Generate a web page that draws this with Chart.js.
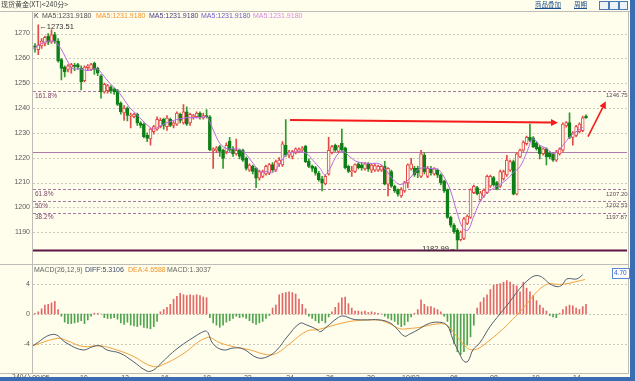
<!DOCTYPE html>
<html><head><meta charset="utf-8">
<script src="https://cdn.jsdelivr.net/npm/chart.js@4.4.0/dist/chart.umd.min.js"></script>
<style>
html,body{margin:0;padding:0}
body{width:635px;height:381px;background:#3c6db2;overflow:hidden;position:relative;font-family:"Liberation Sans",Arial,sans-serif}
#wrap{position:absolute;left:0;top:0;width:630px;height:377px;background:#fffdeb;overflow:hidden}
canvas{position:absolute;left:0}
.t{position:absolute;white-space:nowrap;line-height:1;font-size:7px;color:#555}
.ln{position:absolute;background:#bdbdb5}
.cjk{font-family:"Noto Sans CJK SC",sans-serif}
.ic{position:absolute;top:1px;width:8px;height:7px;border:1px solid #4a7ab8;background:#eef3fa}
</style></head><body>
<div id="wrap">
 <canvas id="main" width="630" height="258" style="top:0"></canvas>
 <canvas id="macd" width="630" height="125" style="top:256px"></canvas>
 <div class="ln" style="left:0;top:11px;width:630px;height:1px"></div>
 <div class="ln" style="left:32px;top:11px;width:1px;height:363px"></div>
 <div class="ln" style="left:628px;top:11px;width:1px;height:363px"></div>
 <div class="ln" style="left:0;top:264px;width:628px;height:1px"></div>
 <div class="ln" style="left:0;top:373px;width:628px;height:1px"></div>
 <div class="t cjk" style="left:1px;top:1px;font-size:7px;color:#444">现货黄金(XT)&lt;240分&gt;</div>
 <div class="t cjk" style="left:535px;top:1px;font-size:6.5px;color:#1e4f8f;text-decoration:underline">商品叠加</div>
 <div class="t cjk" style="left:574px;top:1px;font-size:6.5px;color:#1e4f8f;text-decoration:underline">周期</div>
 <div class="ic" style="left:599px"></div><div class="ic" style="left:609px"></div><div class="ic" style="left:619px;width:7px"></div>
 <div class="t" style="left:34px;top:12px;color:#333">K</div>
 <div class="t" style="left:42px;top:12px;color:#505050">MA5:1231.9180</div>
 <div class="t" style="left:96px;top:12px;color:#f0962e">MA5:1231.9180</div>
 <div class="t" style="left:149px;top:12px;color:#4a3a84">MA5:1231.9180</div>
 <div class="t" style="left:201px;top:12px;color:#6a5ccc">MA5:1231.9180</div>
 <div class="t" style="left:253px;top:12px;color:#d58ae6">MA5:1231.9180</div>
 <div class="t" style="left:34px;top:266px;color:#666">MACD(26,12,9)</div>
 <div class="t" style="left:85px;top:266px;color:#3c4a70">DIFF:5.3106</div>
 <div class="t" style="left:128px;top:266px;color:#f0962e">DEA:4.6588</div>
 <div class="t" style="left:167px;top:266px;color:#666">MACD:1.3037</div>
 <div class="t" style="left:612px;top:268px;width:15px;height:8px;padding:1px 0 0 1px;border:1px solid #5a86d6;background:#fff;color:#2a5cc8;font-size:6.5px">4.70</div>
 <div class="t cjk" style="left:12px;top:374px;font-size:7px">240分</div>
</div>
<script>
// ---------- data ----------
const opens = [1265,1263.5,1265,1266,1269,1266.5,1269.6,1267,1259.5,1256.5,1255.5,1256.5,1257,1257.5,1256,1251,1256.3,1255.5,1258,1256,
1253,1246.5,1247,1248.5,1247.5,1247,1242,1238,1240,1236.8,1236.5,1237.5,1234,1233.5,1229,1227.6,1230.5,1231.5,1232.5,1235.5,
1232.5,1235.5,1233,1233.5,1237.5,1234,1238.5,1234,1236.5,1236.5,1238,1236,1237,1236.5,1222.7,1223,1224.5,1223.1,1222.3,1226.6,
1223.5,1221.5,1223,1223.1,1219.7,1215,1216.5,1215.7,1211.8,1212.5,1213.5,1213.8,1217.2,1215,1217.5,1217.1,1225,1221,1220.5,1222,
1222.5,1223,1224.6,1218.5,1216.5,1216,1213.8,1211.5,1209.5,1213.5,1222,1225,1222.5,1225.8,1224,1216.5,1214.4,1214.5,1217.5,1217,
1215.5,1217.5,1215,1215,1215,1215,1216.5,1209.3,1214.4,1208.5,1207.2,1204.6,1206.6,1209.8,1215.5,1215.7,1215.7,1212.5,1221,1212.5,
1215.5,1213.5,1215,1213.1,1210.5,1207.2,1196,1192.8,1190.8,1187,1187.5,1193.5,1196,1205.9,1208,1203,1204.5,1205.9,1208.5,1212,
1210,1208.5,1211.5,1213.1,1215,1218.4,1205.3,1220.3,1223,1225.6,1228.2,1228,1226,1224.3,1221.6,1223.6,1222,1221.6,1219,1221.5,
1223,1232.8,1234.1,1228.2,1229,1230.5,1230.9,1236.8];
const highs = [1266,1273.51,1268,1269,1270,1271.5,1270.5,1268,1260,1257,1257.5,1258,1258,1258,1257,1257,1257.5,1258,1258.5,1256.5,
1253.5,1250,1249.5,1249,1248,1247.5,1242.5,1241,1240.5,1238,1238,1238,1234.5,1234,1230,1232,1233,1236.5,1236,1236,
1237,1236,1234.5,1238.5,1238,1241.4,1240.5,1238,1237.5,1238.5,1238.5,1238,1239.4,1237,1224,1224.5,1225,1223.5,1226,1228.2,
1224.5,1227.5,1223.5,1223.5,1220.2,1217.5,1217,1216,1215,1215,1217,1217.7,1218,1219,1220,1226.5,1235.4,1223,1223,1224,
1224,1224.5,1225,1219.5,1217,1216.5,1214.5,1212.5,1213,1228.2,1225,1225.5,1225,1231.5,1224.3,1217,1216.5,1217.5,1218,1218,
1218,1218,1217.5,1217.5,1217,1217,1218.5,1216,1215,1209,1207.5,1208,1210.5,1217.5,1219.7,1216.5,1216.5,1223,1222,1216.5,
1216.5,1216,1215.5,1213.5,1211,1207.5,1196.5,1193.5,1191.5,1190.5,1196,1197,1207.5,1209,1208.5,1206.5,1207.5,1213,1213,1212.5,
1210.5,1215,1215,1221,1219,1219,1222,1223.5,1226.8,1228.7,1233.5,1228.5,1226.5,1225,1224,1224,1222.5,1222,1223,1224,
1234,1234.5,1238.1,1230.5,1233,1234,1236.8,1237.3];
const lows = [1262.5,1261.5,1264,1265,1265.5,1266,1266,1258.5,1251.3,1252.5,1254.5,1254,1255,1255.5,1247.3,1250.5,1255,1255,1253.5,1253,
1244,1246,1246,1246,1245.5,1241,1237.5,1235,1234.8,1232,1236,1233,1232,1228,1226.5,1225,1229.5,1231,1232,1231.5,
1231,1232.5,1232,1233,1234,1233.5,1233,1233,1235.5,1236,1235.5,1235.5,1236,1222.8,1215.7,1222,1220.5,1215.7,1221.5,1222.5,
1220.5,1221,1219.5,1218.5,1215,1214.5,1213.5,1207.9,1211,1212,1213,1213.2,1214.5,1214.5,1216.5,1216.5,1220.5,1220,1219.5,1221.5,
1222,1222.5,1218,1216,1214.5,1213,1210.5,1206.6,1209,1213,1221.5,1222.5,1222,1222.5,1215.5,1214,1212.5,1214,1215.5,1215,
1215,1214.5,1214,1214.5,1214.5,1214.5,1209,1204.6,1208,1206,1204.5,1204,1206,1207.9,1215,1212.5,1212,1212,1213.5,1212,
1213,1213,1212,1209,1206,1195.5,1192,1189.5,1182.99,1186.5,1187,1193,1195.5,1205.5,1205,1202.5,1204,1205.5,1208,1208.5,
1207,1208,1211,1212.5,1214.5,1205,1205,1220,1222.5,1225,1226.5,1224,1223,1219.5,1221,1217.1,1219.5,1218.5,1218.5,1221,
1222.5,1232.3,1227.7,1225,1228.5,1230,1230.5,1235.8];
const closes = [1264.4,1265.5,1267,1268.5,1266.5,1269.5,1266.8,1259,1256,1254.5,1257,1257.5,1256.8,1256.5,1250.5,1256.5,1257,1257.5,1255.5,1254,
1246.5,1249.5,1249,1247,1246.5,1241.5,1238.5,1240,1237,1237.2,1237.5,1234,1233,1228.5,1227.8,1231.5,1232.5,1235.5,1235,1233,
1236,1233,1234,1238,1235,1238.5,1233.5,1237.5,1237,1238,1236.5,1237,1236.5,1223.1,1223.6,1224,1222.5,1219.7,1225,1223,
1221.5,1223,1220.5,1219,1215.7,1217,1214.5,1211.8,1214.4,1214.4,1216.5,1217.2,1215,1218.4,1219,1225.6,1221,1222.3,1222.5,1223.6,
1223.5,1224,1218.4,1216.5,1215.7,1213.8,1211.2,1209.7,1212.5,1223,1224.5,1223,1224.5,1223.1,1216,1214.5,1214.8,1217.2,1216,1215.9,
1217.5,1215.5,1217,1216.8,1216.5,1216.5,1209.3,1215.7,1208.5,1206.6,1205.3,1207.2,1210,1217.1,1217.5,1213.1,1214,1221.6,1214.4,1215.7,
1214,1215.5,1213,1209.8,1206.6,1196,1192.8,1190.1,1186.8,1190,1195.4,1196.5,1207.2,1208.5,1205.5,1205.9,1207,1212.5,1212.5,1209,
1207.5,1214.4,1214.4,1219,1218.4,1205.3,1221.6,1223.1,1226.3,1228.2,1227,1224.3,1223.5,1221.6,1223.6,1220.3,1220.3,1219,1222.3,1223.6,
1233.5,1234.1,1228.2,1230,1232.5,1233.5,1236.1,1236.1];
const maIdx = [-0.6,2.4,5.5,7,8.5,10,11.5,13.6,16,18.8,20.3,22.7,24.8,26.7,28.8,30.9,32.7,34.8,35.8,37.9,40,43,46,50,52.1,53.9,56.1,58.2,60,62.1,
64.2,66.1,68.2,70.3,72.1,74.2,76.4,78.2,80.3,82.4,84.2,86.4,87.9,89.4,91.5,93.3,95.5,97.6,101.5,104.5,106.7,108.5,110.6,112.7,114.5,116.7,119.7,122.1,123.6,125.8,
127.9,129.7,131.2,132.7,134.8,137,140,143,144.8,147,149.1,150.9,153,155.2,157,159.1,161.2,163,166];
const maVals = [1263.7,1266.3,1267,1265.5,1262.4,1258.5,1255.8,1255.8,1255.1,1255.8,1253.8,1249.9,1247.3,1244,1240,1237.4,1234.8,1232.3,1231.5,1232.8,
1234.1,1235.4,1236.1,1236.1,1236.4,1231.5,1225.6,1223.6,1223.6,1223.3,1221,1217.7,1214.4,1214.4,1214,1217.7,1221.6,1222.2,1222.4,1221.6,
1219,1215.7,1213.1,1215.7,1221,1222.6,1220.3,1218.4,1217.7,1217.5,1214.4,1211.2,1209.2,1210.5,1213.1,1215.7,1215.7,1215.3,1213.1,1207.2,
1198,1191.5,1190.8,1195.4,1202,1205.9,1208.5,1211.2,1213.8,1216.4,1222.3,1227.6,1225,1223.6,1221.6,1223.6,1227,1229.5,1232.2];
const macdHist = [0.1,0.3,0.7,1.2,1.3,1.5,1.7,0.6,-0.3,-1.1,-1.3,-1.3,-1.2,-1.1,-0.9,-1.3,-0.8,-0.3,0.1,0.1,
0,-0.5,-0.6,-0.6,-0.5,-0.7,-1.2,-1.4,-1.1,-1.5,-1.6,-1.7,-1.5,-1.8,-1.9,-2,-1.7,-1,0.3,0.6,
0.9,1.3,2,2.4,2.8,2.6,2.5,2.6,2.5,2.6,2.5,2.3,2.2,-0.5,-1.2,-1.5,-1.8,-1.5,-1.1,-0.9,
-0.6,-0.3,-0.5,-0.4,-0.6,-0.9,-1.2,-1.4,-1.2,-1,-0.6,-0.2,0.8,1.2,2.6,2.8,2.9,3,2.9,2.7,
2,1.3,0.7,-0.3,-0.6,-0.9,-1.2,-0.9,-1.2,-0.4,0.3,0.9,1.5,2.2,2.3,1.4,0.8,0.4,0.4,0.3,
0.4,0.2,0.3,0.2,0.1,0,-0.3,-0.6,-0.8,-1,-1.4,-1.7,-1.5,-1,-0.4,0.1,0.6,1.9,1.3,1,
1,0.8,0.6,0.3,-0.3,-1,-2.5,-4,-5.1,-5.5,-5.1,-4.2,-3.1,-1.5,0.8,1.6,2.2,2.6,3.3,3.9,
4,4.1,4.3,4.5,4.3,4,3.8,3,4.3,3.5,3,2.5,1.8,1.2,0.8,0.4,-0.2,-0.4,-0.5,0.1,
0.6,1,1.2,1.1,0.8,0.6,1,1.3];
const diffIdx = [-0.6,5.5,9.7,14.5,17.6,19.7,21.8,25.8,29.7,33.9,35.8,37.9,40.9,43.9,47.9,51.5,52.4,53.9,57,60,63,67.3,70.3,73.3,76.4,80.3,82.4,85.5,86.4,88.5,
91.5,93.3,96.4,99.4,104.5,107.6,109.7,112,113.6,115.8,118.8,121.8,124.8,126.7,128.8,130,131.2,132.7,134.8,137.9,140.9,143.9,147,150,152.1,153.9,156,158.2,159.7,161.2,164.2,166];
const diffVals = [-4.28,-2.75,-3.97,-4.86,-4.4,-4.3,-4.86,-5.3,-6.4,-7.7,-7.6,-6.8,-5.5,-4.4,-3.2,-2.3,-2.5,-4,-4.86,-4.6,-4.7,-5.9,-5.8,-4.86,-3.1,-1.26,-1.5,-2.1,-2.4,-1.7,
-0.6,-0.26,-0.7,-0.8,-0.8,-1.2,-2,-3,-2.7,-2.2,-1.4,-1.1,-1.5,-3.5,-5.5,-6.4,-6.4,-4.86,-3.9,-1.7,0,1.66,3.47,4.8,5.2,4.9,4.1,3.7,3.9,4.74,4.74,5.31];
const deaIdx = [-0.6,6.7,9.7,14.5,19.7,24.8,29.7,35.8,40,44.8,52.1,56.1,60,65.2,70.3,73.3,77.3,82.4,85.8,91.5,96.4,101.5,104.5,107.6,110.6,113.6,116.7,121.8,124.8,127.9,
130.9,132.7,134.8,137.9,140.9,143.9,147,150,152.1,153.9,156,158.2,161.2,164.2,166.7];
const deaVals = [-4.28,-3.3,-3.6,-4.4,-4.3,-4.86,-5.7,-7.1,-6.6,-5.4,-3.2,-3.9,-4.4,-4.86,-5.5,-5.3,-3.97,-2.3,-2.1,-1.4,-0.94,-0.8,-0.85,-1.35,-2,-1.95,-1.8,-1.35,-1.5,-3.06,
-4.55,-4.86,-4.55,-3.5,-2.4,-1.1,0.3,1.9,3,3.7,4.1,4,4.1,4.4,4.66];
const priceTicks = [1190,1200,1210,1220,1230,1240,1250,1260,1270];
const macdTicks = [-4,0,4];
const fibValues = [1182.76,1197.87,1202.53,1207.20,1222.31,1246.75];
const fibLeftLabels = ['','38.2%','50%','61.8%','','161.8%'];
const fibRightLabels = ['','1197.87','1202.53','1207.20','','1246.75'];
const dateIdx = [1.8,14.8,27.3,39.4,52.1,64.5,77.3,89.4,101.8,113.9,127,139.1,151.8,164.2];
const dateLabels = ['09/05','10','12','16','18','22','24','26','30','10/02','06','08','10','14'];
const arrowFrom = [[77.3,1235.2],[167.6,1228.5]];
const arrowTo = [[158.5,1234.1],[173,1242.7]];

// ---------- styling ----------
const BG = '#fffdeb', UP = '#e44848', DOWN = '#0f7f18', DOWNW = '#2f9a2f';
const X_MIN = -0.606, X_MAX = 179.42;
const FONT = '"Liberation Sans", Arial, sans-serif';
const idx = closes.map((_, i) => i);
const up = idx.map(i => closes[i] >= opens[i]);

function xAxis() { return { type: 'linear', min: X_MIN, max: X_MAX, offset: false, bounds: 'data', display: false, grid: { offset: false } }; }
function yAxis(min, max, ticks) {
  return { min, max, position: 'left',
    afterFit(s) { s.width = 33; },
    afterBuildTicks(s) { s.ticks = ticks.map(v => ({ value: v })); },
    ticks: { font: { size: 7, family: FONT }, color: '#5a5a5a', padding: 3, callback: v => String(v) },
    grid: { display: false, drawTicks: false }, border: { display: false } };
}

const mainPlugin = {
  id: 'mainDecor',
  beforeDatasetsDraw(chart) {
    const { ctx, chartArea: a, scales: { y } } = chart;
    ctx.save();
    ctx.lineWidth = 1; ctx.strokeStyle = '#cfcbbd'; ctx.setLineDash([2, 2]);
    priceTicks.forEach(v => { const p = Math.round(y.getPixelForValue(v)) + 0.5;
      ctx.beginPath(); ctx.moveTo(a.left, p); ctx.lineTo(a.right, p); ctx.stroke(); });
    fibValues.forEach((v, k) => {
      const p = Math.round(y.getPixelForValue(v)) + 0.5;
      if (k === 0) { ctx.setLineDash([]); ctx.strokeStyle = '#5c1446'; ctx.lineWidth = 2; }
      else if (fibLeftLabels[k] === '') { ctx.setLineDash([]); ctx.strokeStyle = '#b07aac'; ctx.lineWidth = 1; }
      else { ctx.setLineDash([3, 2]); ctx.strokeStyle = '#a67aa0'; ctx.lineWidth = 1; }
      ctx.beginPath(); ctx.moveTo(a.left, p); ctx.lineTo(a.right, p); ctx.stroke();
    });
    ctx.restore();
  },
  afterDatasetsDraw(chart) {
    const { ctx, scales: { x, y } } = chart;
    ctx.save();
    ctx.font = '6.5px ' + FONT; ctx.textBaseline = 'top'; ctx.textAlign = 'left';
    fibValues.forEach((v, k) => {
      const p = y.getPixelForValue(v) + 1.5;
      ctx.fillStyle = '#7a3f6c';
      if (fibLeftLabels[k]) ctx.fillText(fibLeftLabels[k], 35, p);
    });
    ctx.font = '6px ' + FONT; ctx.fillStyle = '#5e4a5c';
    fibValues.forEach((v, k) => {
      if (fibRightLabels[k]) ctx.fillText(fibRightLabels[k], 606, y.getPixelForValue(v) + 1.5);
    });
    const hi = Math.max(...highs), hiI = highs.indexOf(hi);
    const lo = Math.min(...lows), loI = lows.indexOf(lo);
    ctx.fillStyle = '#333'; ctx.font = '7.5px ' + FONT; ctx.textBaseline = 'middle';
    ctx.textAlign = 'left'; ctx.fillText('\u2190' + hi.toFixed(2), x.getPixelForValue(hiI) + 1, y.getPixelForValue(hi) + 2);
    ctx.textAlign = 'right'; ctx.fillText(lo.toFixed(2) + '\u2192', x.getPixelForValue(loI) - 1, y.getPixelForValue(lo) - 1);
    ctx.strokeStyle = '#f41c1c'; ctx.fillStyle = '#f41c1c';
    arrowFrom.forEach((f, k) => {
      const x1 = x.getPixelForValue(f[0]), y1 = y.getPixelForValue(f[1]);
      const x2 = x.getPixelForValue(arrowTo[k][0]), y2 = y.getPixelForValue(arrowTo[k][1]);
      const ang = Math.atan2(y2 - y1, x2 - x1), hl = 7, hw = 3.5;
      const bx = x2 - hl * Math.cos(ang), by = y2 - hl * Math.sin(ang);
      ctx.lineWidth = k === 0 ? 2 : 1.6;
      ctx.beginPath(); ctx.moveTo(x1, y1); ctx.lineTo(bx, by); ctx.stroke();
      ctx.beginPath(); ctx.moveTo(x2, y2);
      ctx.lineTo(bx + hw * Math.sin(ang), by - hw * Math.cos(ang));
      ctx.lineTo(bx - hw * Math.sin(ang), by + hw * Math.cos(ang));
      ctx.closePath(); ctx.fill();
    });
    ctx.restore();
  }
};

new Chart(document.getElementById('main'), {
  type: 'bar',
  data: { datasets: [
    { type: 'line', data: maIdx.map((v, k) => ({ x: v, y: maVals[k] })), borderColor: '#b86ce4', borderWidth: 1, pointRadius: 0, tension: 0.35 },
    { data: idx.map(i => ({ x: i, y: [opens[i], closes[i]] })), backgroundColor: idx.map(i => up[i] ? BG : DOWN),
      borderColor: idx.map(i => up[i] ? UP : DOWN), borderWidth: 1, borderSkipped: false, barThickness: 3, grouped: false, minBarLength: 1 },
    { data: idx.map(i => ({ x: i, y: [lows[i], highs[i]] })), backgroundColor: idx.map(i => up[i] ? UP : DOWNW), barThickness: 1, grouped: false }
  ] },
  options: { responsive: false, animation: false, devicePixelRatio: 1,
    layout: { padding: { top: 12, bottom: 2, left: 0, right: 3 } },
    plugins: { legend: { display: false }, tooltip: { enabled: false } },
    scales: { x: xAxis(), y: yAxis(1182.51, 1278.67, priceTicks) } },
  plugins: [mainPlugin]
});

const macdPlugin = {
  id: 'macdDecor',
  beforeDatasetsDraw(chart) {
    const { ctx, chartArea: a, scales: { y } } = chart;
    ctx.save(); ctx.lineWidth = 1; ctx.strokeStyle = '#cbc8bc'; ctx.setLineDash([2, 2]);
    macdTicks.forEach(v => { const p = Math.round(y.getPixelForValue(v)) + 0.5;
      ctx.beginPath(); ctx.moveTo(a.left, p); ctx.lineTo(a.right, p); ctx.stroke(); });
    ctx.restore();
  },
  afterDraw(chart) {
    const { ctx, scales: { x } } = chart;
    ctx.save(); ctx.font = '7px ' + FONT; ctx.fillStyle = '#555'; ctx.textAlign = 'center'; ctx.textBaseline = 'top';
    dateIdx.forEach((v, k) => ctx.fillText(dateLabels[k], x.getPixelForValue(v), 119));
    ctx.restore();
  }
};

new Chart(document.getElementById('macd'), {
  type: 'bar',
  data: { datasets: [
    { type: 'line', data: diffIdx.map((v, k) => ({ x: v, y: diffVals[k] })), borderColor: '#505e6e', borderWidth: 1, pointRadius: 0, tension: 0.4 },
    { type: 'line', data: deaIdx.map((v, k) => ({ x: v, y: deaVals[k] })), borderColor: '#f2a23a', borderWidth: 1, pointRadius: 0, tension: 0.4 },
    { data: idx.map(i => ({ x: i, y: macdHist[i] })), backgroundColor: idx.map(i => macdHist[i] >= 0 ? '#e26868' : '#4ea54e'), barThickness: 1, grouped: false }
  ] },
  options: { responsive: false, animation: false, devicePixelRatio: 1,
    layout: { padding: { top: 8, bottom: 8, left: 0, right: 3 } },
    plugins: { legend: { display: false }, tooltip: { enabled: false } },
    scales: { x: xAxis(), y: yAxis(-7.973, 6.757, macdTicks) } },
  plugins: [macdPlugin]
});
</script>
</body></html>
